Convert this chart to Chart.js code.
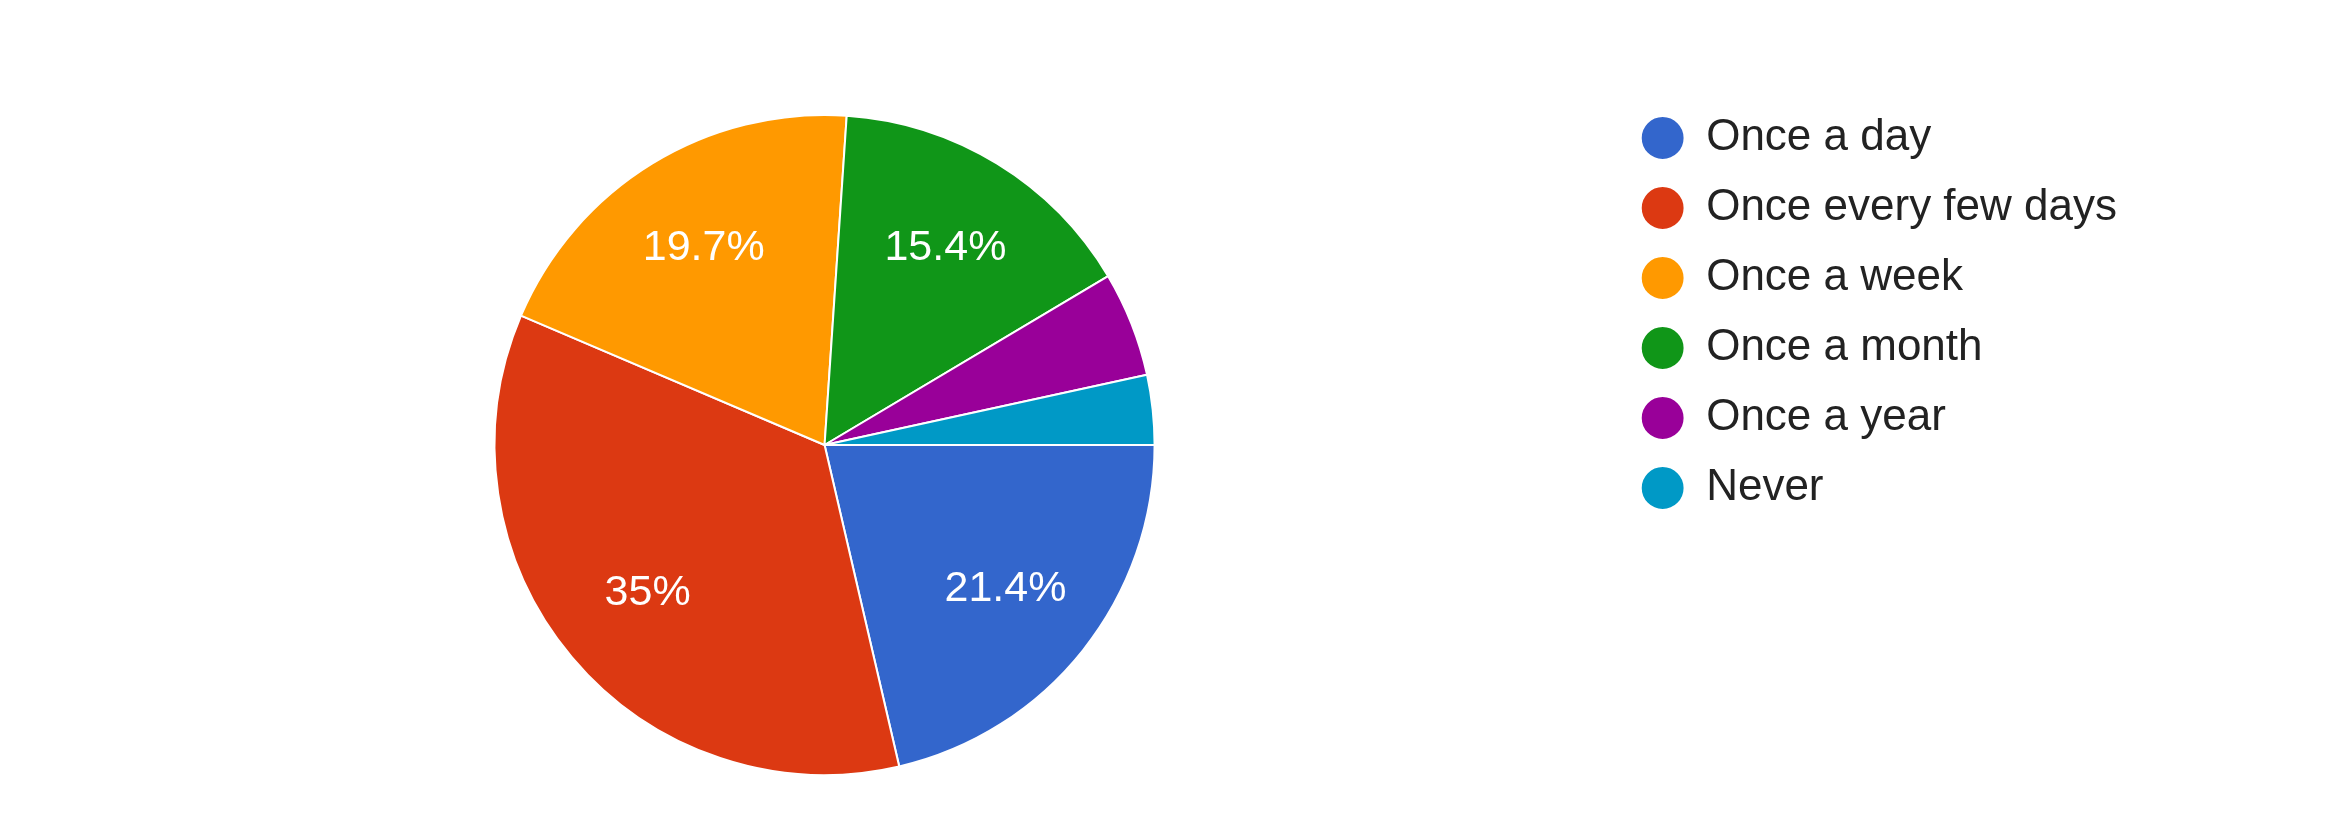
<!DOCTYPE html>
<html>
<head>
<meta charset="utf-8">
<script src="https://cdn.jsdelivr.net/npm/chart.js@4"></script>
<style>
  html, body { margin: 0; padding: 0; background: #ffffff; }
  #chartBox { width: 2326px; height: 832px; }
</style>
</head>
<body>
<div id="chartBox"><canvas id="pieChart" width="2326" height="832"></canvas></div>
<script>
// Answers (117 responses)
var categories = ['Once a day', 'Once every few days', 'Once a week', 'Once a month', 'Once a year', 'Never'];
var responseCounts = [25, 41, 23, 18, 6, 4];
var sliceColors = ['#3366cc', '#dc3912', '#ff9900', '#109618', '#990099', '#0099c6'];

var FONT = "'Liberation Sans', Arial, sans-serif";
var LABEL_MIN_SHARE = 0.08;   // small slices get no text, like the original

/**
 * Percent text inside each slice
 */
var sliceLabels = {
	id: 'sliceLabels',
	afterDatasetsDraw: function (chart) {
		var ctx = chart.ctx;
		var meta = chart.getDatasetMeta(0);
		var values = chart.data.datasets[0].data;
		var total = values.reduce(function (a, b) { return a + b; }, 0);
		ctx.save();
		ctx.fillStyle = '#ffffff';
		ctx.font = '43px ' + FONT;
		ctx.textAlign = 'center';
		ctx.textBaseline = 'middle';
		meta.data.forEach(function (arc, i) {
			var share = values[i] / total;
			if (share < LABEL_MIN_SHARE) return;
			var p = arc.getProps(['x', 'y', 'startAngle', 'endAngle', 'outerRadius'], true);
			var mid = (p.startAngle + p.endAngle) / 2;
			var r = p.outerRadius * 0.7;
			var txt = parseFloat((share * 100).toFixed(1)) + '%';
			ctx.fillText(txt, p.x + Math.cos(mid) * r, p.y + Math.sin(mid) * r);
		});
		ctx.restore();
	}
};

var pieChart = new Chart(document.getElementById('pieChart'), {
	type: 'pie',
	data: {
		labels: categories,
		datasets: [{
			data: responseCounts,
			backgroundColor: sliceColors,
			borderColor: '#ffffff',
			borderWidth: 2,
			radius: 330
		}]
	},
	options: {
		responsive: false,
		devicePixelRatio: 1,
		animation: false,
		rotation: 90,
		layout: {
			padding: { left: 34, right: 199, top: 90, bottom: 32 }
		},
		plugins: {
			tooltip: { enabled: false },
			legend: {
				position: 'right',
				align: 'start',
				labels: {
					usePointStyle: true,
					pointStyle: 'circle',
					boxWidth: 43,
					boxHeight: 31,
					padding: 26,
					color: '#222222',
					font: { family: FONT, size: 44 }
				}
			}
		}
	},
	plugins: [sliceLabels]
});
</script>
</body>
</html>
